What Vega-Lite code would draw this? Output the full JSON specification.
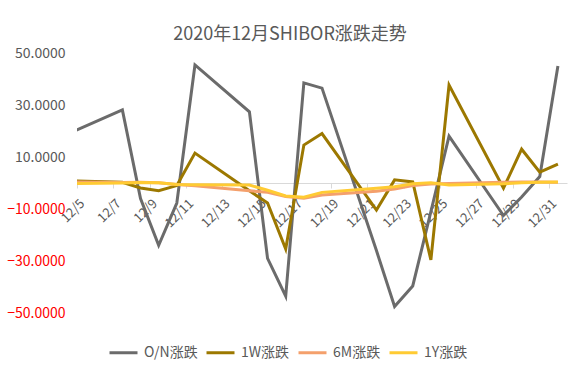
{
  "$schema": "https://vega.github.io/schema/vega-lite/v6.json",
  "width": 490,
  "height": 260,
  "autosize": {"type": "none"},
  "padding": {"left": 77, "top": 53, "right": 19, "bottom": 59},
  "background": "white",
  "title": {
    "text": "2020年12月SHIBOR涨跌走势",
    "font": "Noto Sans CJK SC",
    "fontSize": 18,
    "fontWeight": "normal",
    "color": "#595959",
    "anchor": "middle",
    "dx": -32,
    "offset": 2
  },
  "config": {
    "view": {"stroke": null},
    "font": "Noto Sans CJK SC"
  },
  "data": {
    "values": [
      {"date": "2020/12/04", "series": "O/N涨跌", "value": 18.9},
      {"date": "2020/12/07", "series": "O/N涨跌", "value": 28.1},
      {"date": "2020/12/08", "series": "O/N涨跌", "value": -6.0},
      {"date": "2020/12/09", "series": "O/N涨跌", "value": -24.0},
      {"date": "2020/12/10", "series": "O/N涨跌", "value": -7.7},
      {"date": "2020/12/11", "series": "O/N涨跌", "value": 45.4},
      {"date": "2020/12/14", "series": "O/N涨跌", "value": 27.4},
      {"date": "2020/12/15", "series": "O/N涨跌", "value": -29.0},
      {"date": "2020/12/16", "series": "O/N涨跌", "value": -43.5},
      {"date": "2020/12/17", "series": "O/N涨跌", "value": 38.5},
      {"date": "2020/12/18", "series": "O/N涨跌", "value": 36.5},
      {"date": "2020/12/21", "series": "O/N涨跌", "value": -26.0},
      {"date": "2020/12/22", "series": "O/N涨跌", "value": -47.5},
      {"date": "2020/12/23", "series": "O/N涨跌", "value": -39.6},
      {"date": "2020/12/24", "series": "O/N涨跌", "value": -11.0},
      {"date": "2020/12/25", "series": "O/N涨跌", "value": 18.0},
      {"date": "2020/12/28", "series": "O/N涨跌", "value": -12.5},
      {"date": "2020/12/29", "series": "O/N涨跌", "value": -5.4},
      {"date": "2020/12/30", "series": "O/N涨跌", "value": 2.5},
      {"date": "2020/12/31", "series": "O/N涨跌", "value": 45.0},
      {"date": "2020/12/04", "series": "1W涨跌", "value": 0.9},
      {"date": "2020/12/07", "series": "1W涨跌", "value": 0.3},
      {"date": "2020/12/08", "series": "1W涨跌", "value": -1.9},
      {"date": "2020/12/09", "series": "1W涨跌", "value": -3.0},
      {"date": "2020/12/10", "series": "1W涨跌", "value": -1.0},
      {"date": "2020/12/11", "series": "1W涨跌", "value": 11.5},
      {"date": "2020/12/14", "series": "1W涨跌", "value": -3.0},
      {"date": "2020/12/15", "series": "1W涨跌", "value": -7.7},
      {"date": "2020/12/16", "series": "1W涨跌", "value": -25.4},
      {"date": "2020/12/17", "series": "1W涨跌", "value": 14.6},
      {"date": "2020/12/18", "series": "1W涨跌", "value": 19.0},
      {"date": "2020/12/21", "series": "1W涨跌", "value": -10.4},
      {"date": "2020/12/22", "series": "1W涨跌", "value": 1.2},
      {"date": "2020/12/23", "series": "1W涨跌", "value": 0.4},
      {"date": "2020/12/24", "series": "1W涨跌", "value": -29.6},
      {"date": "2020/12/25", "series": "1W涨跌", "value": 37.7},
      {"date": "2020/12/28", "series": "1W涨跌", "value": -2.0},
      {"date": "2020/12/29", "series": "1W涨跌", "value": 13.0},
      {"date": "2020/12/30", "series": "1W涨跌", "value": 4.2},
      {"date": "2020/12/31", "series": "1W涨跌", "value": 7.3},
      {"date": "2020/12/04", "series": "6M涨跌", "value": 0.4},
      {"date": "2020/12/07", "series": "6M涨跌", "value": 0.2},
      {"date": "2020/12/08", "series": "6M涨跌", "value": 0.3},
      {"date": "2020/12/09", "series": "6M涨跌", "value": 0.1},
      {"date": "2020/12/10", "series": "6M涨跌", "value": -0.6},
      {"date": "2020/12/11", "series": "6M涨跌", "value": -1.1},
      {"date": "2020/12/14", "series": "6M涨跌", "value": -3.0},
      {"date": "2020/12/15", "series": "6M涨跌", "value": -3.6},
      {"date": "2020/12/16", "series": "6M涨跌", "value": -5.2},
      {"date": "2020/12/17", "series": "6M涨跌", "value": -5.9},
      {"date": "2020/12/18", "series": "6M涨跌", "value": -4.6},
      {"date": "2020/12/21", "series": "6M涨跌", "value": -3.2},
      {"date": "2020/12/22", "series": "6M涨跌", "value": -2.3},
      {"date": "2020/12/23", "series": "6M涨跌", "value": -1.0},
      {"date": "2020/12/24", "series": "6M涨跌", "value": -0.4},
      {"date": "2020/12/25", "series": "6M涨跌", "value": -0.2},
      {"date": "2020/12/28", "series": "6M涨跌", "value": 0.3},
      {"date": "2020/12/29", "series": "6M涨跌", "value": 0.4},
      {"date": "2020/12/30", "series": "6M涨跌", "value": 0.4},
      {"date": "2020/12/31", "series": "6M涨跌", "value": 0.3},
      {"date": "2020/12/04", "series": "1Y涨跌", "value": -0.2},
      {"date": "2020/12/07", "series": "1Y涨跌", "value": 0.0},
      {"date": "2020/12/08", "series": "1Y涨跌", "value": 0.2},
      {"date": "2020/12/09", "series": "1Y涨跌", "value": 0.1},
      {"date": "2020/12/10", "series": "1Y涨跌", "value": -0.6},
      {"date": "2020/12/11", "series": "1Y涨跌", "value": -0.7},
      {"date": "2020/12/14", "series": "1Y涨跌", "value": -0.8},
      {"date": "2020/12/15", "series": "1Y涨跌", "value": -2.8},
      {"date": "2020/12/16", "series": "1Y涨跌", "value": -5.0},
      {"date": "2020/12/17", "series": "1Y涨跌", "value": -5.5},
      {"date": "2020/12/18", "series": "1Y涨跌", "value": -3.6},
      {"date": "2020/12/21", "series": "1Y涨跌", "value": -2.0},
      {"date": "2020/12/22", "series": "1Y涨跌", "value": -1.4},
      {"date": "2020/12/23", "series": "1Y涨跌", "value": -0.3},
      {"date": "2020/12/24", "series": "1Y涨跌", "value": 0.1},
      {"date": "2020/12/25", "series": "1Y涨跌", "value": -0.8},
      {"date": "2020/12/28", "series": "1Y涨跌", "value": -0.3},
      {"date": "2020/12/29", "series": "1Y涨跌", "value": 0.1},
      {"date": "2020/12/30", "series": "1Y涨跌", "value": 0.3},
      {"date": "2020/12/31", "series": "1Y涨跌", "value": 0.4}
    ]
  },
  "mark": {"type": "line", "strokeWidth": 3, "clip": true},
  "encoding": {
    "x": {
      "field": "date",
      "type": "temporal",
      "scale": {
        "domain": [
          {"year": 2020, "month": 12, "date": 4, "hours": 12},
          {"year": 2020, "month": 12, "date": 31, "hours": 12}
        ]
      },
      "axis": {
        "title": null,
        "orient": "bottom",
        "offset": -130,
        "values": [
          {"year": 2020, "month": 12, "date": 5},
          {"year": 2020, "month": 12, "date": 7},
          {"year": 2020, "month": 12, "date": 9},
          {"year": 2020, "month": 12, "date": 11},
          {"year": 2020, "month": 12, "date": 13},
          {"year": 2020, "month": 12, "date": 15},
          {"year": 2020, "month": 12, "date": 17},
          {"year": 2020, "month": 12, "date": 19},
          {"year": 2020, "month": 12, "date": 21},
          {"year": 2020, "month": 12, "date": 23},
          {"year": 2020, "month": 12, "date": 25},
          {"year": 2020, "month": 12, "date": 27},
          {"year": 2020, "month": 12, "date": 29},
          {"year": 2020, "month": 12, "date": 31}
        ],
        "format": "%-m/%-d",
        "labelAngle": -45,
        "labelAlign": "right",
        "labelBaseline": "middle",
        "labelFontSize": 13,
        "labelColor": "#595959",
        "labelPadding": 13,
        "labelOffset": 5,
        "tickOffset": -9,
        "tickSize": 5,
        "tickColor": "#d9d9d9",
        "domainColor": "#d9d9d9",
        "grid": false,
        "labelOverlap": false,
        "labelBound": false,
        "zindex": 0
      }
    },
    "y": {
      "field": "value",
      "type": "quantitative",
      "scale": {"domain": [-50, 50], "nice": false, "zero": false},
      "axis": {
        "title": null,
        "values": [-50, -30, -10, 10, 30, 50],
        "format": ".4f",
        "grid": false,
        "domain": false,
        "ticks": false,
        "labelPadding": 12,
        "labelFontSize": 14,
        "labelColor": {"condition": {"test": "datum.value < 0", "value": "#ff0000"}, "value": "#595959"}
      }
    },
    "color": {
      "field": "series",
      "type": "nominal",
      "scale": {
        "domain": ["O/N涨跌", "1W涨跌", "6M涨跌", "1Y涨跌"],
        "range": ["#6b6b6b", "#9c7800", "#f4a06c", "#ffcb33"]
      },
      "legend": {
        "title": null,
        "orient": "none",
        "legendX": 31,
        "legendY": 284,
        "direction": "horizontal",
        "symbolType": "stroke",
        "symbolSize": 784,
        "symbolStrokeWidth": 3,
        "labelFontSize": 14,
        "labelColor": "#595959",
        "labelOffset": 5,
        "columnPadding": 2
      }
    }
  }
}
